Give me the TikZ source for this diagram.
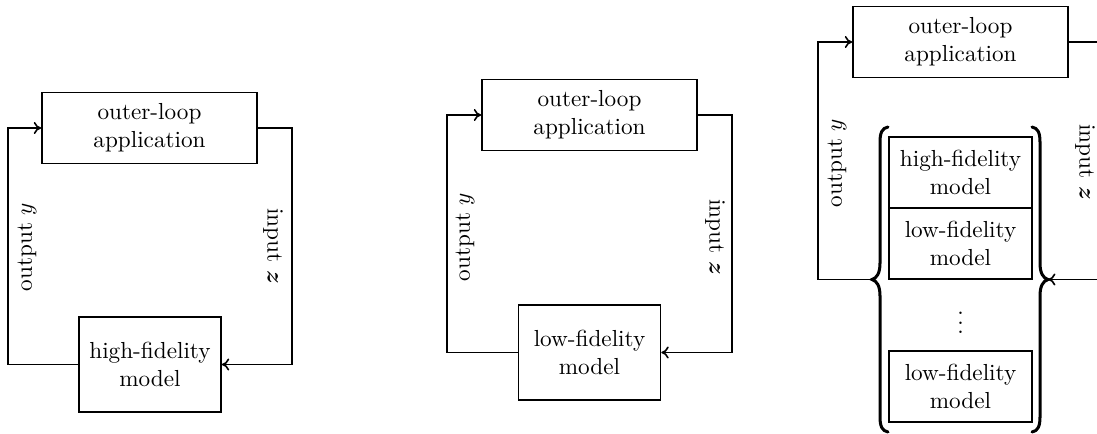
\documentclass[tikz,border=0pt]{standalone}
\usepackage{amsmath}
\usetikzlibrary{arrows.meta}
\begin{document}
\begin{tikzpicture}[x=0.431pt, y=-0.431pt, line width=0.7pt,
  >={To[length=3.2pt, width=5.2pt]},
  appbox/.style={draw, align=center, inner sep=0pt,
    minimum width=215*0.431pt, minimum height=71*0.431pt},
  modelbox/.style={draw, align=center, inner sep=0pt,
    minimum width=142*0.431pt, minimum height=95*0.431pt},
  stackbox/.style={draw, align=center, inner sep=0pt,
    minimum width=143*0.431pt, minimum height=71*0.431pt},
  uplabel/.style={rotate=90, inner sep=0pt},
  downlabel/.style={rotate=-90, inner sep=0pt},
  bracestroke/.style={line width=1.3pt, line cap=round}]
\clip (0,0) rectangle (1097,433);

% --- single high-fidelity model loop
\node[appbox] (app1) at (149.5,128) {outer-loop\\application};
\node[modelbox] (hf1) at (150,364.5) {high-fidelity\\model};
\coordinate (l1) at (8,246);
\coordinate (r1) at (292,246);
\draw[->] (hf1.west) -| (l1) |- (app1.west);
\draw[->] (app1.east) -| (r1) |- (hf1.east);
\node[uplabel] (out1) at (27,247) {output $y$};
\node[downlabel] (in1) at (273,246) {input $\boldsymbol{z}$};

% --- single low-fidelity model loop
\node[appbox] (app2) at (589.5,115) {outer-loop\\application};
\node[modelbox] (lf2) at (589.5,352.5) {low-fidelity\\model};
\coordinate (l2) at (447,240);
\coordinate (r2) at (732,240);
\draw[->] (lf2.west) -| (l2) |- (app2.west);
\draw[->] (app2.east) -| (r2) |- (lf2.east);
\node[uplabel] (out2) at (465,237) {output $y$};
\node[downlabel] (in2) at (715,237) {input $\boldsymbol{z}$};

% --- multifidelity loop over a set of models
\node[appbox] (app3) at (960.5,42) {outer-loop\\application};
\node[stackbox] (hf3) at (960.5,172.5) {high-fidelity\\model};
\node[stackbox] (lf3a) at (960.5,243.5) {low-fidelity\\model};
\node (dots3) at (960.5,316) {$\vdots$};
\node[stackbox] (lf3b) at (960.5,386.5) {low-fidelity\\model};

% curly braces around the model set
\coordinate (lbt) at (872,279.5);
\coordinate (rbt) at (1048,279.5);
\draw[bracestroke] (888,127) .. controls (882,128) and (880,133) .. (880,142)
  -- (880,263) .. controls (880,273) and (877,278) .. (lbt)
  .. controls (877,281) and (880,286) .. (880,296)
  -- (880,417) .. controls (880,426) and (882,431) .. (888,432);
\draw[bracestroke] (1032,127) .. controls (1038,128) and (1040,133) .. (1040,142)
  -- (1040,263) .. controls (1040,273) and (1043,278) .. (rbt)
  .. controls (1043,281) and (1040,286) .. (1040,296)
  -- (1040,417) .. controls (1040,426) and (1038,431) .. (1032,432);

\coordinate (l3) at (818,160);
\coordinate (r3) at (1104,160);
\draw[->] (lbt) -| (l3) |- (app3.west);
\draw[->] (app3.east) -| (r3) |- (rbt);
\node[uplabel] (out3) at (837,163) {output $y$};
\node[downlabel] (in3) at (1085,162) {input $\boldsymbol{z}$};
\end{tikzpicture}
\end{document}
